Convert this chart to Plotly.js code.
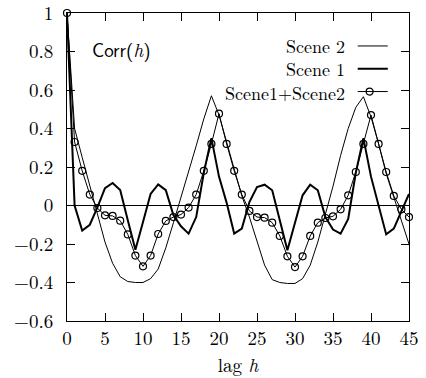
<!DOCTYPE html>
<html>
<head>
<meta charset="utf-8">
<script src="https://cdn.plot.ly/plotly-3.0.1.min.js"></script>
<style>html,body{margin:0;padding:0;background:#fff;}#chart{width:426px;height:378px;}</style>
</head>
<body>
<div id="chart"></div>
<script>
var lags = [];
for (var i = 0; i <= 45; i++) lags.push(i);

var scene2 = [1.0, 0.40, 0.25, 0.10, -0.04, -0.19, -0.30, -0.37, -0.395, -0.40,
  -0.40, -0.38, -0.33, -0.22, -0.09, 0.04, 0.18, 0.31, 0.45, 0.57,
  0.47, 0.33, 0.18, 0.05, -0.06, -0.19, -0.31, -0.385, -0.40, -0.405,
  -0.405, -0.38, -0.31, -0.19, -0.05, 0.10, 0.26, 0.40, 0.51, 0.565,
  0.46, 0.32, 0.165, 0.04, -0.08, -0.20];

var scene1 = [1.0, 0.0, -0.13, -0.10, -0.01, 0.09, 0.117, 0.08, -0.077, -0.23,
  -0.086, 0.06, 0.11, 0.08, -0.05, -0.108, -0.146, -0.06, 0.17, 0.35,
  0.15, 0.015, -0.146, -0.12, 0.018, 0.096, 0.108, 0.079, -0.077, -0.233,
  -0.09, 0.053, 0.108, 0.079, -0.06, -0.125, -0.146, -0.07, 0.17, 0.35,
  0.15, 0.0, -0.15, -0.12, -0.03, 0.06];

var combined = [1.0, 0.33, 0.18, 0.057, -0.013, -0.051, -0.054, -0.079, -0.15, -0.26,
  -0.316, -0.26, -0.148, -0.08, -0.06, -0.047, -0.011, 0.057, 0.18, 0.32,
  0.477, 0.32, 0.18, 0.057, -0.028, -0.06, -0.063, -0.089, -0.158, -0.264,
  -0.32, -0.264, -0.158, -0.089, -0.065, -0.056, -0.02, 0.053, 0.174, 0.32,
  0.47, 0.32, 0.174, 0.05, -0.02, -0.06];

var seriesNames = ["Scene 2", "Scene 1", "Scene1+Scene2"];
var xTicks = [0, 5, 10, 15, 20, 25, 30, 35, 40, 45];
var yTicks = [-0.6, -0.4, -0.2, 0, 0.2, 0.4, 0.6, 0.8, 1];
var yTickText = ["\u22120.6", "\u22120.4", "\u22120.2", "0", "0.2", "0.4", "0.6", "0.8", "1"];

var serif = "Latin Modern Roman, Liberation Serif, serif";
var serifFont = {family: serif, size: 19, color: "#000"};
var legFont = {family: serif, size: 18, color: "#000"};

var traces = [
  {x: lags, y: scene2, name: seriesNames[0], mode: "lines", type: "scatter",
   line: {color: "#000", width: 1}},
  {x: lags, y: scene1, name: seriesNames[1], mode: "lines", type: "scatter",
   line: {color: "#000", width: 2}},
  {x: lags, y: combined, name: seriesNames[2], mode: "lines+markers", type: "scatter",
   line: {color: "#000", width: 1},
   marker: {symbol: "circle-open", size: 7, color: "#000", line: {width: 1.2, color: "#000"}},
   cliponaxis: false}
];

var legY = [0.893, 0.819, 0.745];
var legTextX = 0.818, legX0 = 0.850, legX1 = 0.938, legMarkX = 0.885;

var annotations = [
  {xref: "paper", yref: "paper", x: 0.068, y: 0.882, xanchor: "left", yanchor: "middle",
   showarrow: false,
   text: 'Corr(<span style="font-family:Latin Modern Roman"><i>h</i></span>)',
   font: {family: "Latin Modern Sans, Liberation Sans, sans-serif", size: 19, color: "#000"}},
  {xref: "paper", yref: "paper", x: legTextX, y: legY[1], xanchor: "right", yanchor: "middle",
   align: "right", showarrow: false, text: seriesNames.join("<br>"), font: legFont}
];
var shapes = [];
for (var k = 0; k < 3; k++) {
  shapes.push({type: "line", xref: "paper", yref: "paper", x0: legX0, x1: legX1,
    y0: legY[k], y1: legY[k], line: {color: "#000", width: k === 1 ? 2 : 1}});
}
shapes.push({type: "circle", xref: "paper", yref: "paper", xsizemode: "pixel", ysizemode: "pixel",
  xanchor: legMarkX, yanchor: legY[2], x0: -3.5, x1: 3.5, y0: -3.5, y1: 3.5,
  line: {color: "#000", width: 1.2}});

var layout = {
  width: 426, height: 378,
  margin: {l: 66.7, r: 16.7, t: 12.7, b: 57.3},
  paper_bgcolor: "#fff", plot_bgcolor: "#fff",
  showlegend: false,
  font: serifFont,
  xaxis: {range: [0, 45], tickvals: xTicks, ticks: "inside", ticklen: 8, tickwidth: 1,
    tickcolor: "#000", showline: true, linecolor: "#000", linewidth: 1, mirror: "ticks",
    showgrid: false, zeroline: false, tickfont: serifFont, ticklabelstandoff: 0,
    ticklabeloverflow: "allow",
    title: {text: "lag <i>h</i>", font: serifFont, standoff: 3}},
  yaxis: {range: [-0.6, 1], tickvals: yTicks, ticktext: yTickText, ticks: "inside", ticklen: 8,
    tickwidth: 1, tickcolor: "#000", showline: true, linecolor: "#000", linewidth: 1,
    mirror: "ticks", showgrid: false, zeroline: true, zerolinecolor: "#000", zerolinewidth: 1,
    tickfont: serifFont, ticklabelstandoff: 9, ticklabeloverflow: "allow"},
  annotations: annotations,
  shapes: shapes
};

Plotly.newPlot("chart", traces, layout, {displayModeBar: false, staticPlot: true});
</script>
</body>
</html>
